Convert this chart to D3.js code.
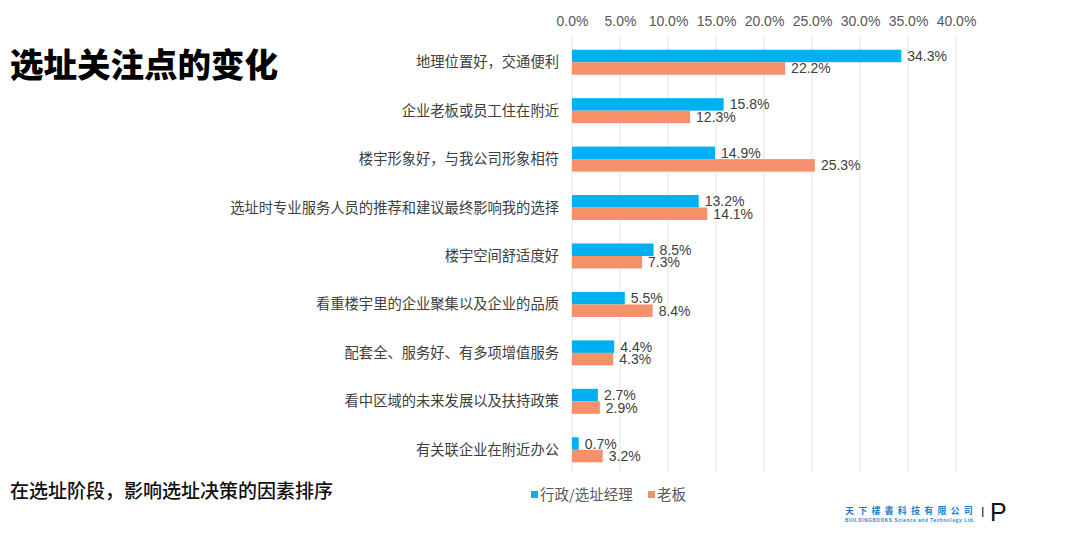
<!DOCTYPE html>
<html><head><meta charset="utf-8">
<script src="https://cdn.jsdelivr.net/npm/d3@7"></script>
<style>body{margin:0;background:#fff}svg{display:block}</style>
</head><body><svg id="c" width="1080" height="536"></svg>
<script>
const categories = ["地理位置好，交通便利","企业老板或员工住在附近","楼宇形象好，与我公司形象相符","选址时专业服务人员的推荐和建议最终影响我的选择","楼宇空间舒适度好","看重楼宇里的企业聚集以及企业的品质","配套全、服务好、有多项增值服务","看中区域的未来发展以及扶持政策","有关联企业在附近办公"];
const seriesNames = ["行政/选址经理","老板"];
const managerValues = [34.3,15.8,14.9,13.2,8.5,5.5,4.4,2.7,0.7];
const bossValues = [22.2,12.3,25.3,14.1,7.3,8.4,4.3,2.9,3.2];
const tickValues = [0,5,10,15,20,25,30,35,40];
const colors = ["#00B0F0","#F4916B"];
const font = "'Noto Sans CJK SC','Noto Sans',sans-serif";

const svg = d3.select("#c");
const x = d3.scaleLinear().domain([0,40]).range([572,956]);
const y = d3.scaleBand().domain(categories).range([38,474]).paddingInner(0).paddingOuter(0);
const barH = 12.5;

// grid
svg.append("g").selectAll("line").data(tickValues).join("line")
  .attr("x1",d=>x(d)).attr("x2",d=>x(d)).attr("y1",36).attr("y2",472)
  .attr("stroke","#e3e3e3").attr("stroke-width",1);

// top axis
const ax = svg.append("g").attr("transform","translate(0,26)")
  .call(d3.axisTop(x).tickValues(tickValues).tickFormat(d=>d.toFixed(1)+"%").tickSize(0).tickPadding(0));
ax.select(".domain").remove();
ax.selectAll("text").attr("font-family","'Liberation Sans',Arial,sans-serif").attr("font-size",14).attr("fill","#595959");

// category labels
svg.append("g").selectAll("text").data(categories).join("text")
  .attr("x",559).attr("y",d=>y(d)+y.bandwidth()/2+5)
  .attr("text-anchor","end").attr("font-family",font).attr("font-size",14.3).attr("fill","#404040")
  .text(d=>d);

const series = [managerValues,bossValues];
series.forEach((vals,si)=>{
  const g = svg.append("g");
  g.selectAll("rect").data(vals).join("rect")
    .attr("x",x(0)).attr("y",(d,i)=>y(categories[i])+y.bandwidth()/2-barH+si*barH)
    .attr("width",d=>x(d)-x(0)).attr("height",barH).attr("fill",colors[si]);
  g.selectAll("text").data(vals).join("text")
    .attr("x",d=>x(d)+6).attr("y",(d,i)=>y(categories[i])+y.bandwidth()/2-barH+si*barH+barH/2+5)
    .attr("font-family","'Liberation Sans',Arial,sans-serif").attr("font-size",14).attr("fill","#404040")
    .text(d=>d.toFixed(1)+"%");
});

// title
svg.append("text").attr("x",10).attr("y",77).attr("font-family",font).attr("font-weight",900)
  .attr("font-size",33.5).attr("fill","#000").text("选址关注点的变化");
svg.append("text").attr("x",10).attr("y",498).attr("font-family",font).attr("font-weight",500)
  .attr("font-size",19).attr("fill","#111").text("在选址阶段，影响选址决策的因素排序");

// legend
const lg = svg.append("g");
const lx = [531,648];
seriesNames.forEach((n,i)=>{
  lg.append("rect").attr("x",lx[i]).attr("y",491).attr("width",7).attr("height",7).attr("fill",colors[i]);
  lg.append("text").attr("x",lx[i]+9).attr("y",500).attr("font-family",font).attr("font-size",14.5)
    .attr("fill","#595959").text(n);
});

// logo
svg.append("text").attr("x",845).attr("y",514).attr("font-family",font).attr("font-size",9)
  .attr("font-weight",700).attr("fill","#1a7fd0").attr("letter-spacing",4.2).text("天下樓書科技有限公司");
svg.append("text").attr("x",845).attr("y",522).attr("font-family","'Liberation Sans',sans-serif").attr("font-size",4.6)
  .attr("font-weight",700).attr("fill","#1a7fd0").attr("letter-spacing",0.65).text("BUILDINGBOOKS Science and Technology Ltd.");
svg.append("rect").attr("x",982).attr("y",507).attr("width",1.5).attr("height",10).attr("fill","#555");
svg.append("text").attr("x",990).attr("y",521).attr("font-family","'Liberation Sans',sans-serif").attr("font-size",25)
  .attr("fill","#111").text("P");
</script></body></html>
